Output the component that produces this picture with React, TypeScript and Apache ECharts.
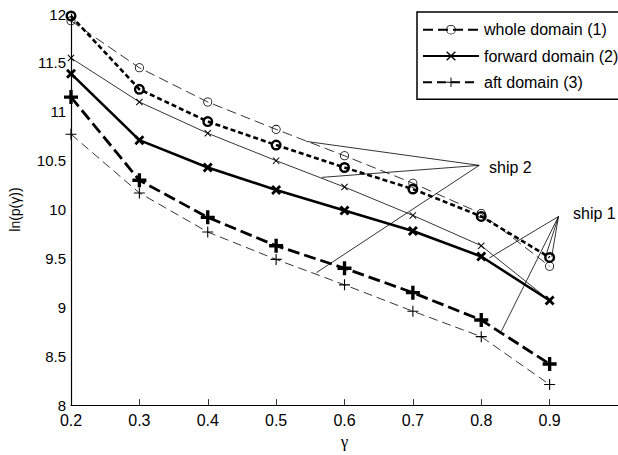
import React, { useEffect, useRef } from "react";
import * as echarts from "echarts";

const gammaValues = [0.2, 0.3, 0.4, 0.5, 0.6, 0.7, 0.8, 0.9];
const ship1Whole = [11.98, 11.23, 10.9, 10.66, 10.43, 10.21, 9.93, 9.51];
const ship2Whole = [11.93, 11.45, 11.1, 10.82, 10.55, 10.27, 9.96, 9.42];
const ship1Forward = [11.39, 10.71, 10.43, 10.2, 9.99, 9.78, 9.52, 9.07];
const ship2Forward = [11.55, 11.1, 10.78, 10.5, 10.23, 9.94, 9.63, 9.07];
const ship1Aft = [11.15, 10.3, 9.92, 9.63, 9.4, 9.15, 8.87, 8.42];
const ship2Aft = [10.77, 10.17, 9.77, 9.49, 9.23, 8.96, 8.7, 8.21];

const legendNames = ["whole domain (1)", "forward domain (2)", "aft domain (3)"];

// annotation leader lines: [tip, target] in data coordinates
const ship2Tip = [0.797, 10.452];
const ship2Targets = [
  [0.544, 10.697],
  [0.567, 10.329],
  [0.559, 9.355],
];
const ship1Tip = [0.913, 9.929];
const ship1Targets = [
  [0.812, 9.506],
  [0.895, 9.539],
  [0.903, 9.519],
  [0.8295, 8.756],
];

const FONT = "'Liberation Sans', Arial, Helvetica, sans-serif";

const RING_THIN =
  "path://M5,0A5,5,0,1,1,5,10A5,5,0,1,1,5,0ZM5,0.9A4.1,4.1,0,1,0,5,9.1A4.1,4.1,0,1,0,5,0.9Z";
const RING_THICK =
  "path://M5,0A5,5,0,1,1,5,10A5,5,0,1,1,5,0ZM5,2.2A2.8,2.8,0,1,0,5,7.8A2.8,2.8,0,1,0,5,2.2Z";
const X_THIN = "path://M0,1L1,0L5,4L9,0L10,1L6,5L10,9L9,10L5,6L1,10L0,9L4,5Z";
const X_THICK = "path://M0,2L2,0L5,3L8,0L10,2L7,5L10,8L8,10L5,7L2,10L0,8L3,5Z";
const PLUS_THIN = "path://M4.5,0H5.5V4.5H10V5.5H5.5V10H4.5V5.5H0V4.5H4.5Z";
const PLUS_THICK = "path://M3.8,0H6.2V3.8H10V6.2H6.2V10H3.8V6.2H0V3.8H3.8Z";

function pairs(vals: number[]) {
  return gammaValues.map((g, i) => [g, vals[i]]);
}

export default function App() {
  const ref = useRef<HTMLDivElement>(null);
  useEffect(() => {
    if (!ref.current) return;
    const chart = echarts.init(ref.current, undefined, { renderer: "svg" });
    const leader = (tip: number[], targets: number[][]) =>
      targets.map((t) => [{ coord: tip }, { coord: t }]);
    const option: any = {
      animation: false,
      backgroundColor: "#fff",
      grid: { left: 69.3, right: -3.7, top: 14, bottom: 49.3, containLabel: false },
      xAxis: {
        type: "value",
        min: 0.2,
        max: 1.0,
        interval: 0.1,
        name: "γ",
        nameLocation: "middle",
        nameGap: 27,
        nameTextStyle: { fontFamily: "'Liberation Serif', 'DejaVu Serif', serif", fontSize: 17, color: "#000" },
        axisLine: { show: true, onZero: false, lineStyle: { color: "#000", width: 1.2 } },
        axisTick: { show: true, inside: true, length: 6, lineStyle: { color: "#000", width: 0.8 } },
        axisLabel: {
          margin: 9,
          fontFamily: FONT,
          fontSize: 16,
          lineHeight: 12,
          color: "#000",
          showMaxLabel: false,
          formatter: (v: number) => v.toFixed(1),
        },
        splitLine: { show: false },
      },
      yAxis: {
        type: "value",
        min: 8,
        max: 12,
        interval: 0.5,
        name: "ln(p(γ))",
        nameLocation: "middle",
        nameGap: 49,
        nameTextStyle: { fontFamily: FONT, fontSize: 14, color: "#000" },
        axisLine: { show: true, onZero: false, lineStyle: { color: "#000", width: 1.2 } },
        axisTick: { show: false },
        axisLabel: {
          margin: 5,
          fontFamily: FONT,
          fontSize: 15,
          lineHeight: 12,
          color: "#000",
          formatter: (v: number) => String(v),
        },
        splitLine: { show: false },
      },
      legend: {
        orient: "vertical",
        left: 417,
        top: 12,
        data: legendNames,
        itemWidth: 56,
        itemHeight: 12,
        itemGap: 10.3,
        backgroundColor: "#fff",
        borderColor: "#000",
        borderWidth: 1.5,
        borderRadius: 0,
        padding: [9.7, 14, 9, 5],
        selectedMode: false,
        textStyle: { fontFamily: FONT, fontSize: 16, color: "#000", lineHeight: 12 },
      },
      graphic: [
        {
          type: "text",
          left: 489,
          top: 159,
          style: { text: "ship 2", font: `16px ${FONT}`, fill: "#000" },
        },
        {
          type: "text",
          left: 573,
          top: 205,
          style: { text: "ship 1", font: `16px ${FONT}`, fill: "#000" },
        },
      ],
      series: [
        {
          name: legendNames[0],
          type: "line",
          data: pairs(ship2Whole),
          symbol: RING_THIN,
          symbolSize: 9,
          itemStyle: { color: "#000" },
          lineStyle: { color: "#000", width: 0.8, type: [10, 5] },
          z: 2,
          markLine: {
            silent: true,
            symbol: "none",
            label: { show: false },
            lineStyle: { color: "#000", width: 0.8, type: "solid" },
            data: [...leader(ship2Tip, ship2Targets), ...leader(ship1Tip, ship1Targets)],
          },
        },
        {
          name: legendNames[1],
          type: "line",
          data: pairs(ship2Forward),
          symbol: X_THIN,
          symbolSize: 7,
          itemStyle: { color: "#000" },
          lineStyle: { color: "#000", width: 0.8, type: "solid" },
          z: 2,
        },
        {
          name: legendNames[2],
          type: "line",
          data: pairs(ship2Aft),
          symbol: PLUS_THIN,
          symbolSize: 11,
          itemStyle: { color: "#000" },
          lineStyle: { color: "#000", width: 0.8, type: [9, 5] },
          z: 2,
        },
        {
          name: "ship 1 whole",
          type: "line",
          data: pairs(ship1Whole),
          symbol: RING_THICK,
          symbolSize: 11,
          itemStyle: { color: "#000" },
          lineStyle: { color: "#000", width: 2.6, type: [5, 3] },
          z: 3,
        },
        {
          name: "ship 1 forward",
          type: "line",
          data: pairs(ship1Forward),
          symbol: X_THICK,
          symbolSize: 10,
          itemStyle: { color: "#000" },
          lineStyle: { color: "#000", width: 2.6, type: "solid" },
          z: 3,
        },
        {
          name: "ship 1 aft",
          type: "line",
          data: pairs(ship1Aft),
          symbol: PLUS_THICK,
          symbolSize: 14,
          itemStyle: { color: "#000" },
          lineStyle: { color: "#000", width: 2.8, type: [12, 5] },
          z: 3,
        },
      ],
    };
    chart.setOption(option);
    return () => chart.dispose();
  }, []);
  return (
    <div
      ref={ref}
      style={{ position: "fixed", left: 0, top: 0, width: 618, height: 455, background: "#fff" }}
    />
  );
}
